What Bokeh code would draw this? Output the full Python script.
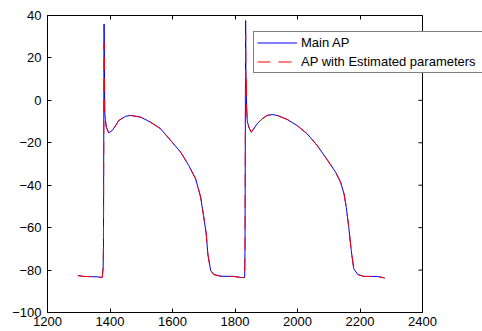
import numpy as np
from bokeh.plotting import figure
from bokeh.models import LinearAxis, Range1d, FixedTicker, Span
from bokeh.embed import file_html
from bokeh.resources import INLINE

# Main action potential (time in ms, voltage in mV)
t_main = [1297, 1316, 1340, 1359, 1375, 1378, 1379, 1380, 1381, 1382, 1383, 1385, 1388,
          1396, 1407, 1418, 1428, 1450, 1466, 1498, 1530, 1562, 1594, 1626, 1652, 1674,
          1690, 1700, 1708, 1713, 1722, 1732, 1754, 1796, 1818, 1831, 1832, 1834, 1835,
          1837, 1839, 1844, 1852, 1860, 1871, 1887, 1903, 1919, 1935, 1967, 1999, 2031,
          2063, 2095, 2122, 2138, 2149, 2156, 2164, 2172, 2180, 2193, 2212, 2255, 2279]
v_main = [-82.6, -83.0, -83.1, -83.2, -83.5, -79, -70, -20, 36, 20, -5, -9, -12.6,
          -15.3, -14.2, -11.9, -9.5, -7.5, -7.1, -7.9, -10.3, -13.4, -18.9, -24.4, -30.7, -37,
          -45.6, -55, -63, -72.4, -80.2, -82.1, -82.9, -83, -83.5, -83.5, -70, 37.6, 10,
          -2, -9.5, -12.6, -15, -13.4, -11, -8.7, -7.1, -6.7, -7.1, -9, -11.9, -15.8,
          -21.3, -28, -33.9, -38.6, -44.1, -50.4, -59.8, -70.8, -79.4, -82.1, -83, -83, -83.7]

# Action potential simulated with estimated parameters
t_est = [1297, 1316, 1340, 1359, 1375, 1378, 1379, 1380, 1381, 1382, 1383, 1385, 1388,
         1396, 1407, 1418, 1428, 1450, 1466, 1498, 1530, 1562, 1594, 1626, 1652, 1674,
         1690, 1700, 1708, 1713, 1722, 1732, 1754, 1796, 1818, 1831, 1832, 1834, 1835,
         1836, 1837, 1839, 1844, 1852, 1860, 1871, 1887, 1903, 1919, 1935, 1967, 1999, 2031,
         2063, 2095, 2122, 2138, 2149, 2156, 2164, 2172, 2180, 2193, 2212, 2255, 2279]
v_est = [-82.6, -83.0, -83.1, -83.2, -83.5, -79, -70, -20, 27, 22, -5, -9, -12.6,
         -15.3, -14.2, -11.9, -9.5, -7.5, -7.1, -7.9, -10.3, -13.4, -18.9, -24.4, -30.7, -37,
         -45.6, -55, -63, -72.4, -80.2, -82.1, -82.9, -83, -83.5, -83.5, -70, 31, 4,
         11, -4, -9.5, -12.6, -15, -13.4, -11, -8.7, -7.1, -6.7, -7.1, -9, -11.9, -15.8,
         -21.3, -28, -33.9, -38.6, -44.1, -50.4, -59.8, -70.8, -79.4, -82.1, -83, -83, -83.7]

x_ticks = [1200, 1400, 1600, 1800, 2000, 2200, 2400]
y_ticks = [-100, -80, -60, -40, -20, 0, 20, 40]

FONT = "Liberation Sans"
FS = "13px"

# The frame runs on past the right edge of the axes box so that the legend,
# which overhangs the box as in the original, is not clipped by it.
p = figure(width=482, height=331, output_backend="svg", toolbar_location=None,
           x_range=Range1d(1200, 2592), y_range=Range1d(-100, 40),
           min_border_left=47, min_border_right=0, min_border_top=15, min_border_bottom=19)
p.background_fill_color = "white"
p.border_fill_color = "white"
p.outline_line_color = None
p.xgrid.visible = False
p.ygrid.visible = False

p.line(t_main, v_main, line_color="#0000ff", line_width=1, legend_label="Main AP")
p.line(t_est, v_est, line_color="#ff0000", line_width=1, line_dash="13 8",
       legend_label="AP with Estimated parameters")


def style(ax, ticks):
    ax.ticker = FixedTicker(ticks=ticks)
    ax.major_tick_in = 4
    ax.major_tick_out = 0
    ax.minor_tick_in = 0
    ax.minor_tick_out = 0
    ax.axis_line_color = "black"
    ax.major_tick_line_color = "black"
    ax.major_label_text_font = FONT
    ax.major_label_text_font_size = FS
    ax.major_label_text_color = "black"


xa = p.xaxis[0]
style(xa, x_ticks)
xa.bounds = (x_ticks[0], x_ticks[-1])
xa.major_label_standoff = 4
ya = p.yaxis[0]
style(ya, y_ticks)
ya.major_label_standoff = 6

top = LinearAxis(bounds=(x_ticks[0], x_ticks[-1]))
style(top, x_ticks)
top.major_label_overrides = {t: "" for t in x_ticks}
top.major_label_standoff = 0
p.add_layout(top, "above")

# right edge of the axes box, with inward ticks
p.add_layout(Span(location=x_ticks[-1], dimension="height", line_color="black", line_width=1))
p.ray(x=[x_ticks[-1]] * len(y_ticks), y=y_ticks, length=4, length_units="screen",
      angle=np.pi, line_color="black", line_width=1)

lg = p.legend[0]
lg.location = (206, 239)
lg.border_line_color = "black"
lg.border_line_width = 1
lg.background_fill_color = "white"
lg.background_fill_alpha = 1
lg.label_text_font = FONT
lg.label_text_font_size = FS
lg.label_text_color = "black"
lg.glyph_width = 40
lg.glyph_height = 15
lg.label_height = 15
lg.label_width = 200
lg.label_standoff = 4
lg.spacing = 4
lg.padding = 3
lg.margin = 0

open("out.html", "w").write(file_html(p, INLINE))
